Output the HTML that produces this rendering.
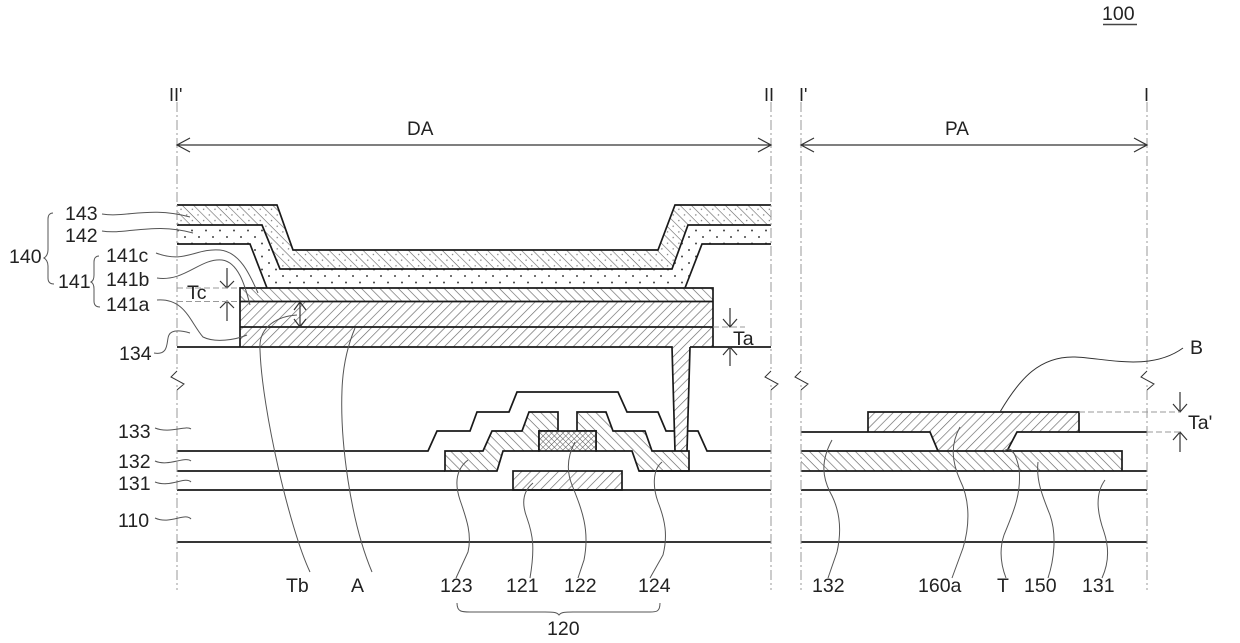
<!DOCTYPE html>
<html><head><meta charset="utf-8"><style>
html,body{margin:0;padding:0;background:#fff}
svg{display:block}
text{font-family:"Liberation Sans",sans-serif;font-size:19.5px;fill:#222}
.l{stroke:#1a1a1a;stroke-width:1.7;fill:none}
.t{stroke:#333;stroke-width:1;fill:none}
.c{stroke:#555;stroke-width:1;fill:none}
.d{stroke:#999;stroke-width:1;stroke-dasharray:10 3 2 3;fill:none}
.h{stroke:#999;stroke-width:1;stroke-dasharray:6 3;fill:none}
</style></head><body>
<svg width="1240" height="643" viewBox="0 0 1240 643" xmlns="http://www.w3.org/2000/svg">
<defs>
<pattern id="hb" width="6.5" height="6.5" patternUnits="userSpaceOnUse" patternTransform="rotate(45)"><rect width="6.5" height="6.5" fill="#fff"/><line x1="0" y1="0" x2="6.5" y2="0" stroke="#666" stroke-width="1.3"/></pattern>
<pattern id="hf" width="6.5" height="6.5" patternUnits="userSpaceOnUse" patternTransform="rotate(-45)"><rect width="6.5" height="6.5" fill="#fff"/><line x1="0" y1="0" x2="6.5" y2="0" stroke="#666" stroke-width="1.3"/></pattern>
<pattern id="hx" width="4" height="4" patternUnits="userSpaceOnUse" patternTransform="rotate(45)"><rect width="4" height="4" fill="#fff"/><path d="M0 0H4M0 0V4" stroke="#555" stroke-width="1"/></pattern>
<pattern id="dp" width="14" height="13" patternUnits="userSpaceOnUse"><rect width="14" height="13" fill="#fff"/><circle cx="3" cy="3" r="1" fill="#444"/><circle cx="10" cy="9.5" r="1" fill="#444"/></pattern>
<pattern id="hd" width="8" height="8" patternUnits="userSpaceOnUse" patternTransform="rotate(45)"><rect width="8" height="8" fill="#fff"/><line x1="0" y1="0" x2="8" y2="0" stroke="#666" stroke-width="1.2"/><circle cx="4" cy="4" r=".7" fill="#777"/></pattern>
</defs>

<!-- layers 143, 142 -->
<path d="M177 205H277L293 250H658L675 205H771V225H688L672 269H280L262 225H177Z" fill="url(#hd)"/>
<path d="M177 225H262L280 269H672L688 225H771V244H702L685 288H267L250 244H177Z" fill="url(#dp)"/>
<path class="l" d="M177 205H277L293 250H658L675 205H771"/>
<path class="l" d="M177 225H262L280 269H672L688 225H771"/>
<path class="l" d="M177 244H250L267 288M685 288L702 244H771"/>

<!-- 141 stack -->
<rect x="240" y="288" width="473" height="13.5" fill="url(#hb)"/>
<rect x="240" y="301.5" width="473" height="25.5" fill="url(#hf)"/>
<path d="M240 327H713V347H690L687 451H675L672 347H240Z" fill="url(#hf)"/>
<path class="l" d="M240 347V288H713V347"/>
<path class="l" d="M240 301.5H713M240 327H713"/>
<path class="l" d="M177 347H672L675 451M690 347L687 451M690 347H771"/>

<!-- TFT -->
<path d="M445 451H483L492 431H522L529 412H558V431H539V451H503L497 471H445Z" fill="url(#hb)"/>
<path class="l" d="M445 451H483L492 431H522L529 412H558V431H539V451H503L497 471H445Z"/>
<path d="M577 412H606L613 431H645L652 451H689V471H639L632 451H596V431H577Z" fill="url(#hb)"/>
<path class="l" d="M577 412H606L613 431H645L652 451H689V471H639L632 451H596V431H577Z"/>
<rect x="539" y="431" width="57" height="20" class="l" style="fill:url(#hx)"/>
<rect x="513" y="471" width="109" height="19" style="fill:url(#hf)" class="l"/>
<path class="l" d="M177 451H428L437 431H470L477 412H509L517 392H618L627 412H658L666 431H675M687 431H698L707 451H771"/>
<path class="l" d="M177 471H445M639 471H771M177 490H771M177 542H771"/>

<!-- PA -->
<rect x="801" y="451" width="321" height="20" fill="url(#hb)"/>
<path d="M868 412H1079V432H1017L1007 451H938L930 432H868Z" fill="url(#hf)"/>
<path class="l" d="M801 432H868V412H1079V432H1017L1007 451M938 451L930 432H868"/>
<path class="l" d="M1079 432H1147M801 451H1122V471M801 471H1147M801 490H1147M801 542H1147" />

<!-- centre lines -->
<path class="d" d="M177 102V590M771 102V590M801 102V590M1147 102V590"/>
<g fill="#fff" stroke="none"><rect x="172" y="372" width="10" height="12"/><rect x="766" y="372" width="10" height="12"/><rect x="796" y="372" width="10" height="12"/><rect x="1142" y="372" width="10" height="12"/></g>
<path class="t" d="M177 371L171 377L184 384L177 390M771 371L765 377L778 384L771 390M801 371L795 377L808 384L801 390M1147 371L1141 377L1154 384L1147 390" stroke-width=".9"/>

<!-- dimension arrows -->
<g class="t" style="stroke-width:1.2">
<path d="M177 145H771M190 138L177 145L190 152M758 138L771 145L758 152"/>
<path d="M801 145H1147M814 138L801 145L814 152M1134 138L1147 145L1134 152"/>
<path d="M227 268V288M220 281L227 288L234 281M227 301V321M220 308L227 301L234 308"/>
<path d="M300 302V327M294 310L300 302L306 310M294 319L300 327L306 319"/>
<path d="M730 308V327M723 319L730 327L737 319M730 347V366M723 355L730 347L737 355"/>
<path d="M1180 392V412M1173 404L1180 412L1187 404M1180 432V452M1173 440L1180 432L1187 440"/>
</g>
<path class="h" d="M177 288H240M177 301.5H240M713 327H745M1079 412H1180M1147 432H1180"/>

<!-- leaders -->
<g class="c">
<path d="M102 214C125 218 150 206 190 217"/>
<path d="M102 231C125 235 155 222 193 233"/>
<path d="M156 253C185 264 195 248 220 250C240 252 250 275 258 293"/>
<path d="M157 278C185 282 200 258 222 260C238 262 245 285 250 305"/>
<path d="M157 300C185 298 190 322 203 337C215 343 235 340 247 335"/>
<path d="M154 353C170 356 166 340 169 335C172 329 183 331 190 333"/>
<path d="M310 572C290 530 262 410 260 350C258 325 280 316 297 315"/>
<path d="M372 572C350 520 340 440 342 390C343 360 350 340 355 328"/>
<path d="M155 428C170 434 185 425 191 429"/>
<path d="M155 461C168 467 185 456 191 461"/>
<path d="M155 482C170 488 185 476 191 482"/>
<path d="M155 518C170 525 185 512 191 519"/>
<path d="M468 460C455 470 455 485 460 500C467 520 472 535 468 552L456 578"/>
<path d="M533 483C522 492 522 505 527 518C533 535 535 548 530 578"/>
<path d="M575 442C568 455 566 470 572 485C582 510 590 530 584 560L578 578"/>
<path d="M662 462C652 470 653 488 658 502C665 520 668 535 663 555L650 578"/>
<path d="M832 440C820 462 823 478 830 492C840 510 842 530 837 552L828 578"/>
<path d="M960 427C950 445 952 462 960 480C970 500 970 525 963 548L952 578"/>
<path d="M1004 451C1012 445 1016 455 1019 468C1022 495 1012 515 1004 535C999 550 1001 565 1006 578"/>
<path d="M1038 462C1036 480 1042 495 1050 515C1057 535 1054 560 1048 578"/>
<path d="M1105 480C1094 495 1098 515 1104 532C1110 550 1108 565 1102 578"/>
<path d="M1000 412C1020 378 1040 356 1075 357C1105 358 1150 372 1183 348" stroke="#333"/>
<!-- braces -->
<path d="M457 603C457 612 462 612 470 612H545C552 612 557 612 559 615C561 612 566 612 573 612H650C656 612 660 612 660 603"/>
<path d="M53 213C50 213 48 215 48 219V250C48 254 46 257 44 258C46 259 48 262 48 266V278C48 282 50 284 54 284"/>
<path d="M99 256C96 256 94 258 94 262V275C94 279 93 281 91 282C93 283 94 285 94 289V301C94 305 96 307 100 307"/>
</g>

<!-- labels -->
<text x="1102" y="20">100</text>
<line x1="1103" y1="24.5" x2="1137" y2="24.5" stroke="#444" stroke-width="1.4"/>
<text x="169" y="101" style="font-size:18px">II'</text>
<text x="764" y="101" style="font-size:18px">II</text>
<text x="799" y="101" style="font-size:18px">I'</text>
<text x="1144" y="101" style="font-size:18px">I</text>
<text x="407" y="135" style="font-size:19px">DA</text>
<text x="945" y="135" style="font-size:19px">PA</text>
<text x="65" y="220">143</text>
<text x="65" y="242">142</text>
<text x="9" y="263">140</text>
<text x="106" y="262">141c</text>
<text x="58" y="288">141</text>
<text x="106" y="286">141b</text>
<text x="106" y="311">141a</text>
<text x="187" y="299">Tc</text>
<text x="119" y="360">134</text>
<text x="733" y="345">Ta</text>
<text x="118" y="438">133</text>
<text x="118" y="468">132</text>
<text x="118" y="490">131</text>
<text x="118" y="527">110</text>
<text x="286" y="592">Tb</text>
<text x="351" y="592">A</text>
<text x="440" y="592">123</text>
<text x="506" y="592">121</text>
<text x="564" y="592">122</text>
<text x="638" y="592">124</text>
<text x="547" y="635">120</text>
<text x="812" y="592">132</text>
<text x="918" y="592">160a</text>
<text x="997" y="592">T</text>
<text x="1024" y="592">150</text>
<text x="1082" y="592">131</text>
<text x="1190" y="354">B</text>
<text x="1188" y="429">Ta'</text>
</svg>
</body></html>
